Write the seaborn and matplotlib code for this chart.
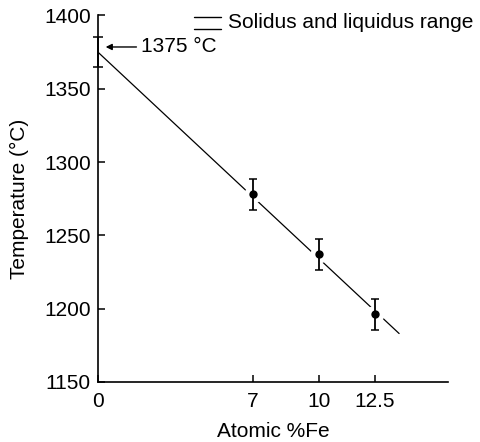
import matplotlib
matplotlib.use("Agg")
import matplotlib.pyplot as plt
import seaborn as sns
import pandas as pd

# Measured melting temperatures vs. iron content
fe_pct = [7, 10, 12.5]
temp_c = [1278, 1237, 1196]
temp_err = [10.5, 10.5, 10.5]

# Pure end member (0 %Fe)
pure_fe = [0]
pure_temp = [1375]
pure_err = [10]

# Linear trend through the data
fit_fe = [0, 13.6]
fit_temp = [1375, 1183]

x_ticks = [0, 7, 10, 12.5]
y_ticks = [1150, 1200, 1250, 1300, 1350, 1400]

sns.set_style("ticks")
plt.rcParams["font.family"] = ["Liberation Sans", "DejaVu Sans"]
plt.rcParams["text.color"] = "black"
plt.rcParams["axes.labelcolor"] = "black"

FS = 15

fig = plt.figure(figsize=(4.8, 4.42), dpi=100)
ax = fig.add_axes([0.204, 0.136, 0.729, 0.829])

pts = pd.DataFrame({"fe": fe_pct, "t": temp_c})
fit = pd.DataFrame({"fe": fit_fe, "t": fit_temp})

sns.lineplot(data=fit, x="fe", y="t", ax=ax, color="black", lw=0.9, zorder=1)
# white halo to break the trend line around each point
ax.plot(fe_pct, temp_c, "o", ms=12, mfc="white", mec="white", zorder=2, clip_on=False)
ax.errorbar(fe_pct, temp_c, yerr=temp_err, fmt="none", ecolor="black",
            elinewidth=1.3, capsize=3, capthick=1.1, zorder=3)
ax.errorbar(pure_fe, pure_temp, yerr=pure_err, fmt="none", ecolor="black",
            elinewidth=1.3, capsize=3.5, capthick=1.1, zorder=3, clip_on=False)
sns.scatterplot(data=pts, x="fe", y="t", ax=ax, color="black", s=36,
                edgecolor="black", linewidth=0, zorder=4)

ax.set_xlim(0, 15.8)
ax.set_ylim(1150, 1400)
ax.set_xticks(x_ticks)
ax.set_xticklabels(["0", "7", "10", "12.5"])
ax.set_yticks(y_ticks)
ax.tick_params(direction="in", length=5, width=1.1, labelsize=FS, colors="black")
ax.tick_params(axis="y", pad=5)
ax.tick_params(axis="x", pad=7)
for s in ("top", "right"):
    ax.spines[s].set_visible(False)
for s in ("left", "bottom"):
    ax.spines[s].set_linewidth(1.2)
    ax.spines[s].set_color("black")

ax.set_xlabel("Atomic %Fe", fontsize=FS, labelpad=8)
ax.set_ylabel("Temperature (°C)", fontsize=FS, labelpad=11)

ax.annotate("1375 °C", xy=(0.35, 1378.5), xytext=(1.95, 1378.5),
            fontsize=FS, va="center", ha="left",
            arrowprops=dict(arrowstyle="-|>", color="black", lw=1.0,
                            mutation_scale=9, shrinkA=1, shrinkB=0))

# legend glyph: pair of lines marking the solidus/liquidus range
fig.lines.append(plt.Line2D([194 / 480, 221 / 480], [1 - 17 / 442, 1 - 17 / 442],
                            color="black", lw=1.0, transform=fig.transFigure))
fig.lines.append(plt.Line2D([194 / 480, 221 / 480], [1 - 29 / 442, 1 - 29 / 442],
                            color="black", lw=1.0, transform=fig.transFigure))
fig.text(228 / 480, 1 - 23 / 442, "Solidus and liquidus range", fontsize=FS,
         va="center", ha="left")

fig.savefig("out.png", dpi=100, facecolor="white")
